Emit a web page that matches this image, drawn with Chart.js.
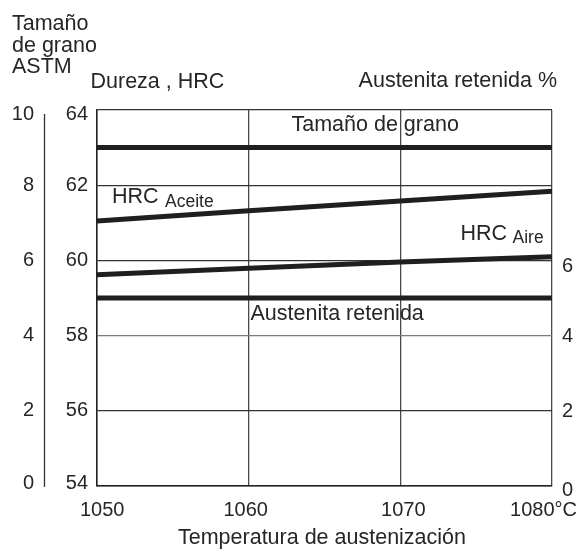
<!DOCTYPE html>
<html>
<head>
<meta charset="utf-8">
<script src="https://cdn.jsdelivr.net/npm/chart.js@4"></script>
<style>
  html, body { margin: 0; padding: 0; background: #fff; }
  #wrap { width: 579px; height: 549px; }
</style>
</head>
<body>
<div id="wrap"><canvas id="c" width="579" height="549"></canvas></div>
<script>
// Austenitizing temperature (°C)
const temperatures = [1050, 1060, 1070, 1080];
// Hardness after quenching, HRC
const hrcAceite = [61.05, 61.32, 61.58, 61.84];
const hrcAire = [59.62, 59.79, 59.96, 60.10];
// ASTM grain size and retained austenite (%)
const tamanoGrano = [9, 9, 9, 9];
const austenitaRetenida = [5, 5, 5, 5];

// Tick labels for each axis
const hrcTicks = [64, 62, 60, 58, 56, 54];
const granoTicks = [10, 8, 6, 4, 2, 0];
const austenitaTicks = [6, 4, 2, 0];
const tempTicks = [1050, 1060, 1070, 1080];

const INK = '#1f1f1f';
const TEXT = '#262626';
const FONT = '"Liberation Sans", Arial, sans-serif';
const LABEL_FONT = '21.5px ' + FONT;
const NUM_FONT = '20px ' + FONT;
const SUB_FONT = '17.5px ' + FONT;

const textPlugin = {
  id: 'figureText',
  afterDraw(chart) {
    const ctx = chart.ctx;
    const x = chart.scales.x;
    const y = chart.scales.y;
    const yG = chart.scales.yG;
    const yA = chart.scales.yA;
    const area = chart.chartArea;
    ctx.save();
    ctx.fillStyle = TEXT;
    ctx.textBaseline = 'alphabetic';

    // Axis titles
    ctx.font = LABEL_FONT;
    ctx.textAlign = 'left';
    ctx.fillText('Tamaño', 12, 30);
    ctx.fillText('de grano', 12, 51.5);
    ctx.fillText('ASTM', 12, 73);
    ctx.fillText('Dureza , HRC', 90.5, 88);
    ctx.textAlign = 'right';
    ctx.fillText('Austenita retenida %', 557, 87);
    ctx.textAlign = 'center';
    ctx.fillText('Temperatura de austenización', 322, 544);

    // Grain size scale (outer left) with its own axis line
    ctx.font = NUM_FONT;
    ctx.textBaseline = 'middle';
    ctx.textAlign = 'right';
    granoTicks.forEach(v => {
      let py = yG.getPixelForValue(v);
      py = Math.min(Math.max(py, area.top + 4), area.bottom - 3);
      ctx.fillText(String(v), 34, py);
    });
    ctx.strokeStyle = '#333';
    ctx.lineWidth = 1.3;
    ctx.beginPath();
    ctx.moveTo(44.5, yG.getPixelForValue(10) + 4);
    ctx.lineTo(44.5, yG.getPixelForValue(0) + 1);
    ctx.stroke();

    // Hardness scale
    hrcTicks.forEach(v => {
      let py = y.getPixelForValue(v);
      py = Math.min(Math.max(py, area.top + 4), area.bottom - 3);
      ctx.fillText(String(v), 88, py);
    });

    // Retained austenite scale (right)
    ctx.textAlign = 'left';
    austenitaTicks.forEach(v => {
      const py = yA.getPixelForValue(v) + (v === 0 ? 4 : v === 6 ? 6 : 1);
      ctx.fillText(String(v), 562, py);
    });

    // Temperature ticks
    tempTicks.forEach((v, i) => {
      const px = x.getPixelForValue(v);
      if (i === 0) {
        ctx.textAlign = 'left';
        ctx.fillText(String(v), px - 17, 510);
      } else if (i === tempTicks.length - 1) {
        ctx.textAlign = 'right';
        ctx.fillText(v + '°C', px + 25, 510);
      } else {
        ctx.textAlign = 'center';
        ctx.fillText(String(v), px - (i === 1 ? 3 : -3), 510);
      }
    });

    // Curve labels
    ctx.font = LABEL_FONT;
    ctx.textBaseline = 'alphabetic';
    ctx.textAlign = 'left';
    ctx.fillText('Tamaño de grano', 291.5, 131);
    ctx.fillText('Austenita retenida', 250.5, 320);

    ctx.fillText('HRC', 112, 203);
    ctx.font = SUB_FONT;
    ctx.fillText('Aceite', 165, 207);

    ctx.font = LABEL_FONT;
    ctx.fillText('HRC', 460.5, 240);
    ctx.font = SUB_FONT;
    ctx.fillText('Aire', 512.5, 242.5);
    ctx.restore();
  }
};

const lineStyle = {
  borderColor: INK,
  borderWidth: 5,
  pointRadius: 0,
  tension: 0,
  fill: false,
  borderCapStyle: 'butt'
};

new Chart(document.getElementById('c'), {
  type: 'line',
  data: {
    labels: temperatures,
    datasets: [
      Object.assign({ label: 'Tamaño de grano', yAxisID: 'yG',
        data: temperatures.map((t, i) => ({ x: t, y: tamanoGrano[i] })) }, lineStyle),
      Object.assign({ label: 'HRC Aceite', yAxisID: 'y',
        data: temperatures.map((t, i) => ({ x: t, y: hrcAceite[i] })) }, lineStyle),
      Object.assign({ label: 'HRC Aire', yAxisID: 'y',
        data: temperatures.map((t, i) => ({ x: t, y: hrcAire[i] })) }, lineStyle),
      Object.assign({ label: 'Austenita retenida', yAxisID: 'yA',
        data: temperatures.map((t, i) => ({ x: t, y: austenitaRetenida[i] })) }, lineStyle)
    ]
  },
  options: {
    responsive: false,
    animation: false,
    devicePixelRatio: 1,
    clip: false,
    layout: { padding: { left: 97, right: 27, top: 110, bottom: 63 } },
    plugins: { legend: { display: false }, tooltip: { enabled: false } },
    scales: {
      x: {
        type: 'linear', min: 1050, max: 1080,
        ticks: { display: false, stepSize: 10 },
        grid: { color: '#4a4a4a', lineWidth: 1.3, drawTicks: false },
        border: { color: '#222', width: 1.5 }
      },
      y: {
        type: 'linear', position: 'left', min: 54, max: 64,
        ticks: { display: false, stepSize: 2 },
        grid: {
          drawTicks: false, lineWidth: 1.3,
          color: c => (c.tick && c.tick.value === 58) ? '#7a7a7a' : '#333'
        },
        border: { color: '#222', width: 1.5 }
      },
      yG: { type: 'linear', display: false, min: 0, max: 10 },
      yA: { type: 'linear', display: false, min: 0, max: 10 }
    }
  },
  plugins: [textPlugin]
});
</script>
</body>
</html>
